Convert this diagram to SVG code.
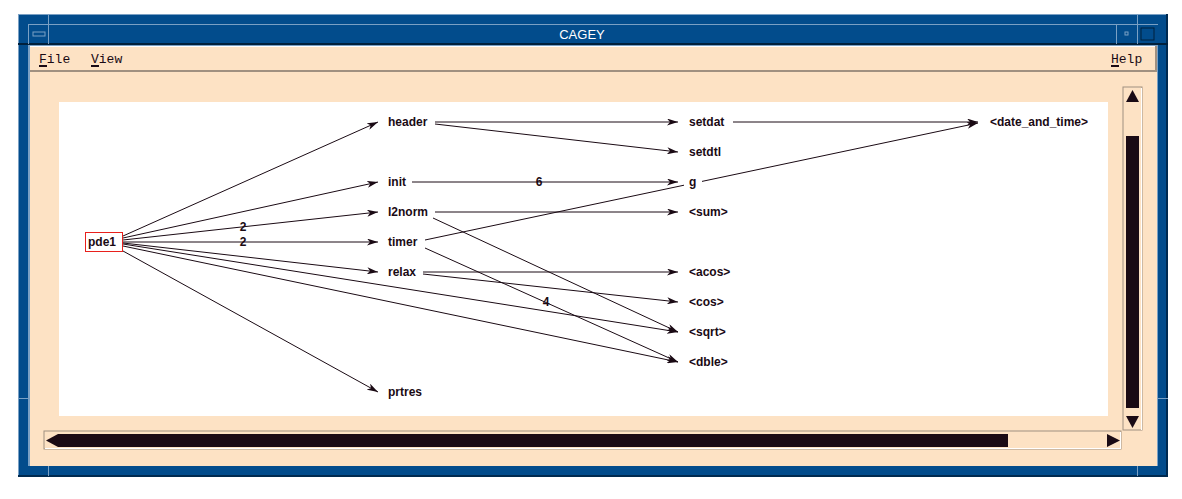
<svg xmlns="http://www.w3.org/2000/svg" width="1182" height="499" viewBox="0 0 1182 499">
<style>
.node{font-family:"Liberation Sans",Arial,sans-serif;font-weight:bold;font-size:12px;fill:#1a0a14}
.lbl{font-family:"Liberation Sans",Arial,sans-serif;font-weight:bold;font-size:12px;fill:#1a0a14;text-anchor:middle}
.menu{font-family:"Liberation Mono","DejaVu Sans Mono",monospace;font-size:13px;fill:#1a0a14}
.e{stroke:#1a0a14;stroke-width:1;fill:none;marker-end:url(#ah)}
.sb{fill:#1a0a14}
</style>
<defs>
<marker id="ah" viewBox="0 0 11 7" refX="11" refY="3.5" markerWidth="11" markerHeight="7" markerUnits="userSpaceOnUse" orient="auto">
<path d="M0,0 L11,3.5 L0,7 L3,3.5 Z" fill="#1a0a14"/>
</marker>
</defs>
<rect width="1182" height="499" fill="#ffffff"/>
<rect x="18" y="14" width="1150" height="463" fill="#024c8c"/>
<rect x="18" y="14" width="1150" height="1" fill="#7aa0c4"/>
<rect x="18" y="14" width="1" height="463" fill="#7aa0c4"/>
<rect x="1166" y="14" width="2" height="463" fill="#002a50"/>
<rect x="18" y="475" width="1150" height="2" fill="#002a50"/>
<rect x="28" y="24" width="1130" height="1" fill="#7aa0c4"/>
<rect x="18" y="43" width="1150" height="2" fill="#00203c"/>
<rect x="28" y="24" width="1" height="20" fill="#7aa0c4"/>
<rect x="48" y="14" width="1" height="30" fill="#7aa0c4"/>
<rect x="33" y="32" width="12" height="4" fill="none" stroke="#7aa0c4" stroke-width="1"/>
<rect x="1116" y="24" width="1" height="20" fill="#7aa0c4"/>
<rect x="1137" y="14" width="1" height="30" fill="#7aa0c4"/>
<rect x="1125" y="32" width="3" height="3" fill="none" stroke="#7aa0c4" stroke-width="1"/>
<rect x="1141" y="28" width="13" height="12" fill="none" stroke="#00203c" stroke-width="1"/>
<text x="582" y="39" font-family="'Liberation Sans',Arial,sans-serif" font-size="13" fill="#ffffff" text-anchor="middle">CAGEY</text>
<rect x="28" y="45" width="1130" height="421" fill="#7aa0c4"/>
<rect x="30" y="46" width="1127" height="420" fill="#fde2c4"/>
<rect x="30" y="46" width="1127" height="1" fill="#ffffff"/>
<rect x="30" y="70" width="1127" height="2" fill="#a09080"/>
<rect x="1155" y="46" width="2" height="26" fill="#a09080"/>
<rect x="18" y="398" width="10" height="1" fill="#7aa0c4"/>
<rect x="1158" y="398" width="10" height="1" fill="#7aa0c4"/>
<rect x="48" y="466" width="1" height="10" fill="#7aa0c4"/>
<rect x="1137" y="466" width="1" height="10" fill="#7aa0c4"/>
<text class="menu" x="39" y="63">File</text>
<rect x="39" y="65" width="8" height="2" fill="#1a0a14"/>
<text class="menu" x="91" y="63">View</text>
<rect x="91" y="65" width="8" height="2" fill="#1a0a14"/>
<text class="menu" x="1111" y="63">Help</text>
<rect x="1111" y="65" width="8" height="2" fill="#1a0a14"/>
<rect x="59" y="102" width="1049" height="314" fill="#ffffff"/>
<rect x="1123" y="87" width="19" height="343" fill="#fde2c4" stroke="#a09080" stroke-width="1"/>
<rect x="1141" y="88" width="1" height="342" fill="#ffffff"/>
<rect x="1126" y="136" width="13" height="272" class="sb"/>
<path d="M1132.5,90 L1139,102 L1126,102 Z" class="sb"/>
<path d="M1126,416 L1139,416 L1132.5,428 Z" class="sb"/>
<rect x="44" y="431" width="1077" height="18" fill="#fde2c4" stroke="#a09080" stroke-width="1"/>
<rect x="45" y="448" width="1076" height="1" fill="#ffffff"/>
<rect x="1120" y="432" width="1" height="17" fill="#ffffff"/>
<rect x="58" y="434" width="950" height="13" class="sb"/>
<path d="M46,440.5 L58,434 L58,447 Z" class="sb"/>
<path d="M1107,434 L1120,440.5 L1107,447 Z" class="sb"/>
<g id="connectors">
<line class="e" x1="123" y1="236" x2="378" y2="122"/>
<line class="e" x1="123" y1="238" x2="378" y2="182"/>
<line class="e" x1="123" y1="240" x2="378" y2="212"/>
<line class="e" x1="123" y1="242" x2="378" y2="242"/>
<line class="e" x1="123" y1="243" x2="378" y2="272"/>
<line class="e" x1="123" y1="244" x2="678" y2="332"/>
<line class="e" x1="123" y1="246" x2="678" y2="362"/>
<line class="e" x1="123" y1="251" x2="378" y2="392"/>
<line class="e" x1="435" y1="122" x2="678" y2="122"/>
<line class="e" x1="435" y1="124" x2="678" y2="152"/>
<line class="e" x1="733" y1="122" x2="978" y2="122"/>
<line class="e" x1="412" y1="182" x2="678" y2="182"/>
<line class="e" x1="435" y1="212" x2="678" y2="212"/>
<line class="e" x1="433" y1="218" x2="678" y2="332"/>
<line class="e" x1="425" y1="240" x2="978" y2="123"/>
<line class="e" x1="425" y1="248" x2="678" y2="362"/>
<line class="e" x1="423" y1="272" x2="678" y2="272"/>
<line class="e" x1="423" y1="274" x2="678" y2="302"/>
<text class="lbl" x="243" y="231">2</text>
<text class="lbl" x="243" y="246">2</text>
<text class="lbl" x="539" y="186">6</text>
<text class="lbl" x="546" y="306">4</text>
</g>
<g id="pde1"><rect x="85.5" y="232.5" width="37" height="19" fill="#ffffff" stroke="#e8201c" stroke-width="1"/><text class="node" x="88" y="246">pde1</text></g>
<g id="header"><text class="node" x="388" y="126">header</text></g>
<g id="init"><text class="node" x="388" y="186">init</text></g>
<g id="l2norm"><text class="node" x="388" y="216">l2norm</text></g>
<g id="timer"><text class="node" x="388" y="246">timer</text></g>
<g id="relax"><text class="node" x="388" y="276">relax</text></g>
<g id="prtres"><text class="node" x="388" y="396">prtres</text></g>
<g id="setdat"><text class="node" x="689" y="126">setdat</text></g>
<g id="setdtl"><text class="node" x="689" y="156">setdtl</text></g>
<g id="g"><rect x="684" y="175" width="18" height="14" fill="#ffffff"/><text class="node" x="689" y="186">g</text></g>
<g id="sum"><text class="node" x="689" y="216">&lt;sum&gt;</text></g>
<g id="acos"><text class="node" x="689" y="276">&lt;acos&gt;</text></g>
<g id="cos"><text class="node" x="689" y="306">&lt;cos&gt;</text></g>
<g id="sqrt"><text class="node" x="689" y="336">&lt;sqrt&gt;</text></g>
<g id="dble"><text class="node" x="689" y="366">&lt;dble&gt;</text></g>
<g id="date_and_time"><text class="node" x="990" y="126">&lt;date_and_time&gt;</text></g>
</svg>
